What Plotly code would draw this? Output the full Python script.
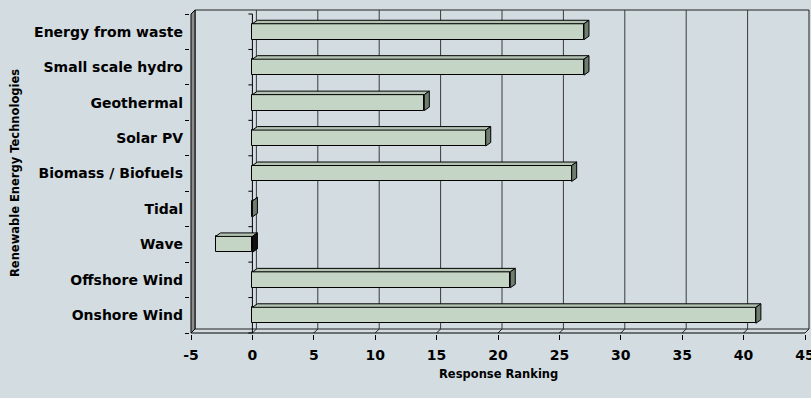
import plotly.graph_objects as go

# ---- data ----
categories = ["Onshore Wind", "Offshore Wind", "Wave", "Tidal", "Biomass / Biofuels",
              "Solar PV", "Geothermal", "Small scale hydro", "Energy from waste"]
values = [41, 21, -3, 0, 26, 19, 14, 27, 27]
x_ticks = [-5, 0, 5, 10, 15, 20, 25, 30, 35, 40, 45]
x_title = "Response Ranking"
y_title = "Renewable Energy Technologies"

# ---- layout geometry (pixels) ----
W, H = 811, 398
FRONT_L, FRONT_R, FRONT_T, FRONT_B = 191, 805, 14, 333
WALL = 4      # depth of the 3-D walls in px
BAR_DX, BAR_DY = 5, 3.5   # depth of bars in px
PAD = 1
XMIN, XMAX = x_ticks[0], x_ticks[-1]
n = len(categories)
YMIN, YMAX = -0.5, n - 0.5
sx = (FRONT_R - FRONT_L) / (XMAX - XMIN)
sy = (FRONT_B - FRONT_T) / (YMAX - YMIN)
plot_l = FRONT_L - PAD
plot_r = FRONT_R + WALL + PAD
plot_t = FRONT_T - WALL - PAD
plot_b = FRONT_B + PAD
xr = [XMIN - PAD / sx, XMAX + (WALL + PAD) / sx]
yr = [YMIN - PAD / sy, YMAX + (WALL + PAD) / sy]
wx, wy = WALL / sx, WALL / sy
bdx, bdy = BAR_DX / sx, BAR_DY / sy
BAR_W = 0.45

BG = "#d3dce1"
BAR_FRONT = "#c5d5c5"
BAR_TOP = "#b3c3b3"
BAR_SIDE = "#6f7d6f"
BAR_SIDE_NEG = "#111111"
WALL_C = "#8c8c8c"

fig = go.Figure()

# front faces
fig.add_trace(go.Bar(
    y=list(range(n)), x=values, orientation="h", width=BAR_W,
    marker=dict(color=BAR_FRONT, line=dict(color="black", width=1)),
    hoverinfo="skip", showlegend=False))

# top and side faces
top_x, top_y = [], []
side = {BAR_SIDE: ([], []), BAR_SIDE_NEG: ([], [])}
for i, v in enumerate(values):
    x0, xe = min(v, 0), max(v, 0)
    yb, yt = i - BAR_W / 2, i + BAR_W / 2
    top_x += [x0, xe, xe + bdx, x0 + bdx, x0, None]
    top_y += [yt, yt, yt + bdy, yt + bdy, yt, None]
    sx_list, sy_list = side[BAR_SIDE_NEG if v < 0 else BAR_SIDE]
    sx_list += [xe, xe, xe + bdx, xe + bdx, xe, None]
    sy_list += [yb, yt, yt + bdy, yb + bdy, yb, None]
fig.add_trace(go.Scatter(x=top_x, y=top_y, mode="lines", fill="toself",
                         fillcolor=BAR_TOP, line=dict(color="black", width=1),
                         hoverinfo="skip", showlegend=False))
for col, (xs, ys) in side.items():
    if xs:
        fig.add_trace(go.Scatter(x=xs, y=ys, mode="lines", fill="toself",
                                 fillcolor=col, line=dict(color="black", width=1),
                                 hoverinfo="skip", showlegend=False))

shapes = []
# back wall
shapes.append(dict(type="rect", x0=XMIN + wx, x1=XMAX + wx, y0=YMIN + wy, y1=YMAX + wy,
                   xref="x", yref="y", line=dict(color="#222", width=1), layer="below"))
# back-wall gridlines + floor diagonals
for t in x_ticks[1:-1]:
    shapes.append(dict(type="line", x0=t + wx, x1=t + wx, y0=YMIN + wy, y1=YMAX + wy,
                       xref="x", yref="y", line=dict(color="#3a3a3a", width=1), layer="below"))
for t in x_ticks:
    shapes.append(dict(type="line", x0=t, x1=t + wx, y0=YMIN, y1=YMIN + wy,
                       xref="x", yref="y", line=dict(color="#222", width=1), layer="below"))
# left wall
shapes.append(dict(type="path",
                   path=f"M {XMIN},{YMIN} L {XMIN},{YMAX} L {XMIN + wx},{YMAX + wy} L {XMIN + wx},{YMIN + wy} Z",
                   xref="x", yref="y", fillcolor=WALL_C, line=dict(color="black", width=1), layer="below"))
# front floor edge
shapes.append(dict(type="line", x0=XMIN, x1=XMAX, y0=YMIN, y1=YMIN,
                   xref="x", yref="y", line=dict(color="black", width=1), layer="below"))
# vertical axis at zero with ticks at category boundaries
shapes.append(dict(type="line", x0=0, x1=0, y0=YMIN, y1=YMAX,
                   xref="x", yref="y", line=dict(color="black", width=1), layer="below"))
for k in range(n + 1):
    b = YMIN + k
    shapes.append(dict(type="line", x0=-4 / sx, x1=0, y0=b, y1=b,
                       xref="x", yref="y", line=dict(color="black", width=1), layer="below"))

PW, PH = plot_r - plot_l, plot_b - plot_t
def px(xp):
    return (xp - plot_l) / PW
def py(yp):
    return (plot_b - yp) / PH

title_font = dict(family="DejaVu Sans", size=11.5, weight="bold", color="black")
annotations = [
    dict(text=x_title, xref="paper", yref="paper", x=px((FRONT_L + FRONT_R) / 2), y=py(374),
         showarrow=False, font=title_font, xanchor="center", yanchor="middle"),
    dict(text=y_title, xref="paper", yref="paper", x=px(15), y=py(173),
         showarrow=False, font=title_font, textangle=-90, xanchor="center", yanchor="middle"),
]

tick_font = dict(family="DejaVu Sans", size=14, weight="bold", color="black")
fig.update_layout(
    width=W, height=H,
    margin=dict(l=plot_l, r=W - plot_r, t=plot_t, b=H - plot_b, pad=0, autoexpand=False),
    paper_bgcolor=BG, plot_bgcolor=BG,
    bargap=0, showlegend=False,
    shapes=shapes, annotations=annotations,
    xaxis=dict(range=xr, tickvals=x_ticks, ticktext=[str(t) for t in x_ticks],
               ticks="outside", ticklen=5, tickcolor="black", showgrid=False,
               zeroline=False, showline=False, tickfont=tick_font, automargin=False,
               ticklabelstandoff=3, ticklabeloverflow="allow", fixedrange=True),
    yaxis=dict(range=yr, tickvals=list(range(n)), ticktext=categories,
               ticks="", showgrid=False, zeroline=False, showline=False,
               tickfont=tick_font, ticklabelstandoff=6, ticklabeloverflow="allow",
               automargin=False,
               minor=dict(tickvals=[YMIN + k for k in range(n + 1)], ticks="outside",
                          ticklen=4, tickcolor="black", showgrid=False),
               fixedrange=True),
)

fig.write_html("out.html")
